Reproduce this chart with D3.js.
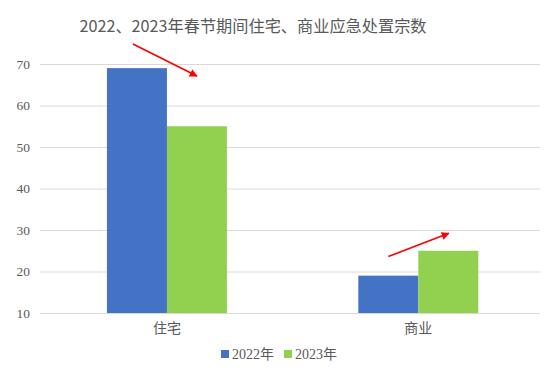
<!DOCTYPE html>
<html><head><meta charset="utf-8">
<script src="https://cdn.jsdelivr.net/npm/d3@7"></script>
<style>
html,body{margin:0;padding:0;background:#fff;}
svg{display:block;}
text{font-family:"Liberation Serif","Noto Sans CJK SC",serif;}
</style></head>
<body>
<svg id="chart" width="554" height="370"></svg>
<script>
const title = "2022、2023年春节期间住宅、商业应急处置宗数";
const categories = ["住宅", "商业"];
const seriesNames = ["2022年", "2023年"];
const values2022 = [69, 19];
const values2023 = [55, 25];
const yTicks = [10, 20, 30, 40, 50, 60, 70];
const colors = ["#4472C4", "#92D050"];
// trend arrows: [category, dx from centre (px), value start, value end]
const trendArrows = [
  {cat: "住宅", from: [-34, 74.8], to: [30, 67.1]},
  {cat: "商业", from: [-30, 23.6], to: [30.5, 29.2]}
];

const svg = d3.select("#chart");

const x = d3.scaleBand().domain(categories).range([41.25, 544]).paddingInner(0).paddingOuter(0);
const y = d3.scaleLinear().domain([10, 70]).range([313, 64]);
const xs = d3.scaleBand().domain(seriesNames).range([0, 120]);

// title
svg.append("text").attr("x", 253).attr("y", 32).attr("text-anchor", "middle")
  .attr("font-size", 16.2).attr("fill", "#595959")
  .style("font-family", "'Noto Sans CJK SC','Liberation Serif',sans-serif")
  .text(title);

// gridlines
const yAxis = d3.axisLeft(y).tickValues(yTicks).tickSize(-500).tickPadding(10);
const ga = svg.append("g").attr("transform", "translate(40,0)").call(yAxis);
ga.select(".domain").remove();
ga.selectAll(".tick line").attr("stroke", "#d9d9d9").attr("stroke-width", 1);
ga.selectAll(".tick text").attr("fill", "#595959").attr("font-size", 13.5)
  .style("font-family", "'Liberation Serif',serif");

// bars
const data = categories.map((c, i) => ({cat: c, vals: [values2022[i], values2023[i]]}));
const groups = svg.append("g").selectAll("g").data(data).join("g")
  .attr("transform", d => `translate(${x(d.cat) + x.bandwidth()/2 - 60},0)`);
groups.selectAll("rect").data(d => d.vals.map((v, j) => ({v, s: seriesNames[j], j})))
  .join("rect")
  .attr("x", d => xs(d.s))
  .attr("width", xs.bandwidth())
  .attr("y", d => y(d.v))
  .attr("height", d => y(10) - y(d.v))
  .attr("fill", d => colors[d.j]);

// x category labels
const xAxis = d3.axisBottom(x).tickSize(0).tickPadding(10);
const gx = svg.append("g").attr("transform", "translate(0,313)").call(xAxis);
gx.select(".domain").remove();
gx.selectAll(".tick text").attr("fill", "#595959").attr("font-size", 14)
  .style("font-family", "'Noto Sans CJK SC',sans-serif");

// arrows
const defs = svg.append("defs");
defs.append("marker").attr("id", "ah").attr("viewBox", "0 0 10 10")
  .attr("refX", 9).attr("refY", 5).attr("markerWidth", 5).attr("markerHeight", 5)
  .attr("orient", "auto").attr("markerUnits", "strokeWidth")
  .append("path").attr("d", "M0,0 L10,5 L0,10 z").attr("fill", "#ff0000");
svg.append("g").selectAll("line").data(trendArrows).join("line")
  .attr("x1", d => x(d.cat) + x.bandwidth()/2 + d.from[0])
  .attr("y1", d => y(d.from[1]))
  .attr("x2", d => x(d.cat) + x.bandwidth()/2 + d.to[0])
  .attr("y2", d => y(d.to[1]))
  .attr("stroke", "#ff0000").attr("stroke-width", 1.6)
  .attr("marker-end", "url(#ah)");

// legend
const legX = [221, 284];
const lg = svg.append("g").selectAll("g").data(seriesNames).join("g")
  .attr("transform", (d, i) => `translate(${legX[i]},354)`);
lg.append("rect").attr("x", 0).attr("y", -4).attr("width", 8).attr("height", 8)
  .attr("fill", (d, i) => colors[i]);
lg.append("text").attr("x", 11).attr("y", 5).attr("font-size", 14).attr("fill", "#595959")
  .style("font-family", "'Liberation Serif','Noto Sans CJK SC',serif")
  .text(d => d);
</script>
</body></html>
